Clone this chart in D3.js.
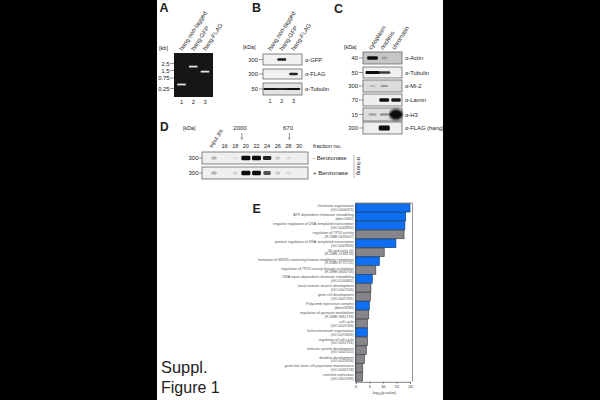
<!DOCTYPE html>
<html><head><meta charset="utf-8">
<script src="https://cdn.jsdelivr.net/npm/d3@7"></script>
<style>html,body{margin:0;padding:0;background:#fff}svg{display:block}text{font-family:"Liberation Sans",Arial,sans-serif;fill:#222}</style>
</head><body><svg id="c" width="600" height="400"></svg>
<script>
// Panel A
const gelLanes=["hang non-tagged","hang-GFP","hang-FLAG"];
const gelTicks=[2.5,1.5,0.75,0.25];
const gelTickLabels=["2.5","1.5","0.75","0.25"];
const gelBandSizes=[0.38,2.0,1.35];
// Panel B
const bRows=["α-GFP","α-FLAG","α-Tubulin"];
const bMarkers=["300","300","50"];
const bGFP=[0,0.9,0];
const bFLAG=[0,0,0.85];
const bTubulin=[0.9,0.85,0.95];
// Panel C
const cLanes=["cytoplasm","nucleus","chromatin"];
const cRows=["α-Actin","α-Tubulin","α-Mi-2","α-Lamin","α-H3","α-FLAG (hang)"];
const cMarkers=["40","50","300","70","15","300"];
const cActin=[0.95,0.2,0];
const cTub=[1,0.75,0];
const cMi2=[0.2,0.4,0];
const cLamin=[0,0.95,0.9];
const cH3=[0.3,0.4,1];
const cFlag=[0,1,0];
// Panel D
const dFractions=["input 3%","16","18","20","22","24","26","28","30"];
const dInputMinus=[0.25,0,0.06,1,1,0.85,0.15,0.08,0];
const dInputPlus=[0.25,0,0.12,1,0.95,0.65,0.15,0.08,0];
// Panel E
const eTerms=["chromatin organization","ATP-dependent chromatin remodeling","negative regulation of DNA-templated transcription","regulation of TP53 activity","positive regulation of DNA-templated transcription","G0 and early G1","formation of WDR5-containing histone-modifying complexes","regulation of TP53 activity through acetylation","DNA repair-dependent chromatin remodeling","larval somatic muscle development","germ cell development","Polycomb repressive complex","regulation of pyruvate metabolism","cell cycle","heterochromatin organization","regulation of cell cycle","immune system development","dendrite development","germ-line stem cell population maintenance","centriole replication"];
const eIds=["(GO:0006325)","(dme:0062)","(GO:0045892)","(R-DME-5633007)","(GO:0045893)","(R-DME-1538133)","(R-DME-8772755)","(R-DME-6804758)","(GO:0140861)","(GO:0007526)","(GO:0007281)","(dme03083)","(R-DME-9861718)","(GO:0007049)","(GO:0070828)","(GO:0051726)","(GO:0002520)","(GO:0016358)","(GO:0030718)","(GO:0007099)"];
const eValues=[20,18.4,18.1,17.8,14.8,10.5,8.7,7.4,6.1,5.6,5.4,5,4.8,4.3,4.3,4.3,3.9,3.2,2.6,2.5];
const eKinds=["b","b","b","g","b","g","b","g","b","g","g","b","g","g","b","g","g","g","g","g"];
const eTicks=[0,5,10,15,20];

const svg=d3.select("#c");
const defs=svg.append("defs");
[["b1",0.6],["b2",1.3],["b3",0.3]].forEach(([id,s])=>defs.append("filter").attr("id",id).attr("x","-40%").attr("y","-80%").attr("width","180%").attr("height","260%").append("feGaussianBlur").attr("stdDeviation",s));

function txt(x,y,t,size,opt={}){const e=svg.append("text").attr("x",x).attr("y",y).attr("font-size",size).attr("text-anchor",opt.anchor||"start").text(t);
  if(opt.weight)e.attr("font-weight",opt.weight);
  if(opt.rot!=null)e.attr("transform",`rotate(${opt.rot} ${x} ${y})`);
  if(opt.fill)e.style("fill",opt.fill);return e;}
function tick(x1,x2,y){svg.append("line").attr("x1",x1).attr("x2",x2).attr("y1",y).attr("y2",y).attr("stroke","#555").attr("stroke-width",.6);}
function blot(x,y,w,h,bg,vals,lane,bw,bh){
  svg.append("rect").attr("x",x).attr("y",y).attr("width",w).attr("height",h).attr("fill",bg).attr("stroke","#666").attr("stroke-width",.8);
  const clip="cp"+x+"_"+y;
  defs.append("clipPath").attr("id",clip).append("rect").attr("x",x).attr("y",y).attr("width",w).attr("height",h);
  svg.append("g").attr("clip-path",`url(#${clip})`).selectAll("rect").data(vals.map((v,i)=>({v,i})).filter(d=>d.v>0)).join("rect")
    .attr("x",d=>lane(d.i)-bw*(.45+.55*d.v)/2).attr("width",d=>bw*(.45+.55*d.v))
    .attr("y",d=>y+h*.5-bh*(.6+.4*d.v)/2).attr("height",d=>bh*(.6+.4*d.v))
    .attr("rx",1.2).attr("fill","#0a0a0a").attr("opacity",d=>Math.min(1,d.v*1.05)).attr("filter","url(#b1)");
}

// A
txt(159.5,12,"A",12.5,{weight:"bold"});
txt(159,50,"[kb]",5.6);
const aX=d3.scalePoint().domain(gelLanes).range([181.5,205]);
const aY=d3.scaleLog().domain(gelTicks).range([63.5,70.5,78,88.5]);
svg.append("rect").attr("x",174).attr("y",53).attr("width",39).attr("height",44).attr("fill","#161616");
gelTicks.forEach((t,i)=>{tick(170,174,aY(t));txt(169.5,aY(t)+2,gelTickLabels[i],5.8,{anchor:"end"});});
svg.append("g").selectAll("rect").data(gelLanes).join("rect").attr("x",d=>aX(d)-4.3).attr("width",8.6).attr("y",(d,i)=>aY(gelBandSizes[i])-.9).attr("height",1.8).attr("fill","#e4e4e4").attr("filter","url(#b3)");
gelLanes.forEach((d,i)=>{txt(aX(d)+1,51,d,6,{rot:-57});txt(aX(d),104,String(i+1),5.8,{anchor:"middle"});});

// B
txt(252,12,"B",12.5,{weight:"bold"});
txt(243,49,"[kDa]",5.4);
const bX=d3.scaleLinear().domain([0,2]).range([270,293.5]);
const bY=[54,69,83],bH=[11,10,12],bV=[bGFP,bFLAG,bTubulin];
bRows.forEach((r,i)=>{
  blot(263,bY[i],39,bH[i],i==2?"#e3e3e3":"#f1f1f1",bV[i],bX,i==2?14:9.5,i==2?1.9:2.6);
  tick(259,263,bY[i]+bH[i]/2);txt(258,bY[i]+bH[i]/2+2,bMarkers[i],5.8,{anchor:"end"});
  txt(305,bY[i]+bH[i]/2+2,r,5.8);
});
gelLanes.forEach((d,i)=>{txt(bX(i)+1,51,d,6,{rot:-57});txt(bX(i),103,String(i+1),5.6,{anchor:"middle"});});

// C
txt(334,12.5,"C",12.5,{weight:"bold"});
txt(344,49,"[kDa]",5.4);
const cX=d3.scaleLinear().domain([0,2]).range([372.5,396]);
const cY=[52,67,80,94,108,122],cH=[12,11,12,12,13,12];
const cV=[cActin,cTub,cMi2,cLamin,cH3,cFlag];
const cBg=["#c6c6c6","#f0f0f0","#dcdcdc","#efefef","#dedede","#efefef"];
const cBW=[11,14,11,10,13,11],cBH=[3.6,3,2,3.6,2.6,5];
cRows.forEach((r,i)=>{
  blot(363,cY[i],39,cH[i],cBg[i],cV[i],cX,cBW[i],cBH[i]);
  tick(359,363,cY[i]+cH[i]/2);txt(358,cY[i]+cH[i]/2+2,cMarkers[i],5.8,{anchor:"end"});
  txt(405,cY[i]+cH[i]/2+2,r,5.8);
});
svg.append("ellipse").attr("cx",cX(2)).attr("cy",cY[4]+6.5).attr("rx",6.5).attr("ry",5.5).attr("fill","#0a0a0a").attr("filter","url(#b2)");
cLanes.forEach((d,i)=>txt(cX(i)-1,50,d,6,{rot:-57}));

// D
txt(160,131,"D",12,{weight:"bold"});
txt(183,130,"[kDa]",5.4);
const dX=d3.scalePoint().domain(dFractions).range([214,299]);
const dI=i=>dX(dFractions[i]);
[[152,12,dInputMinus,"- Benzonase"],[167,12,dInputPlus,"+ Benzonase"]].forEach(([y,h,vals,lab])=>{
  blot(202,y,106,h,"#efefef",vals,dI,9,4.4);
  tick(199,202,y+h/2);txt(198.5,y+h/2+2,"300",6,{anchor:"end"});
  txt(313,y+h/2+2,lab,6);
});
dFractions.forEach((d,i)=>{ if(i)txt(dI(i),147.5,d,5.6,{anchor:"middle"}); });
txt(212,148,dFractions[0],5.4,{rot:-57});
txt(240,130,"2000",6,{anchor:"middle"});txt(288,130,"670",6,{anchor:"middle"});
[dI(3)-4,dI(7)+1].forEach(x=>{svg.append("line").attr("x1",x).attr("x2",x).attr("y1",133).attr("y2",139).attr("stroke","#333").attr("stroke-width",.5);
  svg.append("path").attr("d",`M${x-1.2},137.5L${x},139.5L${x+1.2},137.5`).attr("fill","none").attr("stroke","#333").attr("stroke-width",.4);});
txt(313,147.5,"fraction no.",5.8);
txt(356.5,166,"α-hang",5.8,{rot:90,anchor:"middle"});
svg.append("line").attr("x1",354).attr("x2",354).attr("y1",155).attr("y2",178).attr("stroke","#888").attr("stroke-width",.6);

// E
txt(252.5,213,"E",12.5,{weight:"bold"});
const eX=d3.scaleLinear().domain([0,20]).range([355.7,410]);
const eY=d3.scaleBand().domain(eTerms).range([203.3,381.3]).paddingInner(.04).paddingOuter(.02);
svg.append("g").selectAll("rect").data(eTerms).join("rect")
  .attr("x",eX(0)).attr("y",d=>eY(d)).attr("height",eY.bandwidth())
  .attr("width",(d,i)=>eX(eValues[i])-eX(0))
  .attr("fill",(d,i)=>eKinds[i]=="b"?"#0f6ff0":"#85858b").attr("stroke",(d,i)=>eKinds[i]=="b"?"#0d3f80":"#444").attr("stroke-width",.7);
svg.append("path").attr("d",`M${eX(0)},203H412.5V381.6`).attr("fill","none").attr("stroke","#888").attr("stroke-width",.9);
svg.append("line").attr("x1",eX(0)).attr("x2",eX(0)).attr("y1",203).attr("y2",382).attr("stroke","#333").attr("stroke-width",.6);
eTerms.forEach((t,i)=>{const c=eY(t)+eY.bandwidth()/2;
  txt(353.8,c-.5,t,3.6,{anchor:"end",fill:"#555"});txt(353.8,c+3.2,eIds[i],3.6,{anchor:"end",fill:"#555"});});
const ax=svg.append("g").attr("transform","translate(0,381.8)").call(d3.axisBottom(eX).tickValues(eTicks).tickSize(2).tickPadding(1));
ax.select(".domain").attr("stroke","#333").attr("stroke-width",.6);
ax.selectAll(".tick line").attr("stroke","#333").attr("stroke-width",.5);
ax.selectAll(".tick text").attr("font-size",4).attr("font-family","Liberation Sans");
const lab=txt(384,394,"",3.8,{anchor:"middle",fill:"#444"});
lab.append("tspan").text("-log");lab.append("tspan").attr("font-size",2.8).attr("dy",.8).text("10");lab.append("tspan").attr("dy",-.8).text("(p-value)");

// caption
txt(161,373,"Suppl.",16.4);
txt(161,393,"Figure 1",16);

// black side bars of the page
svg.append("rect").attr("x",0).attr("y",0).attr("width",157).attr("height",400).attr("fill","#000");
svg.append("rect").attr("x",443).attr("y",0).attr("width",157).attr("height",400).attr("fill","#000");
</script></body></html>
